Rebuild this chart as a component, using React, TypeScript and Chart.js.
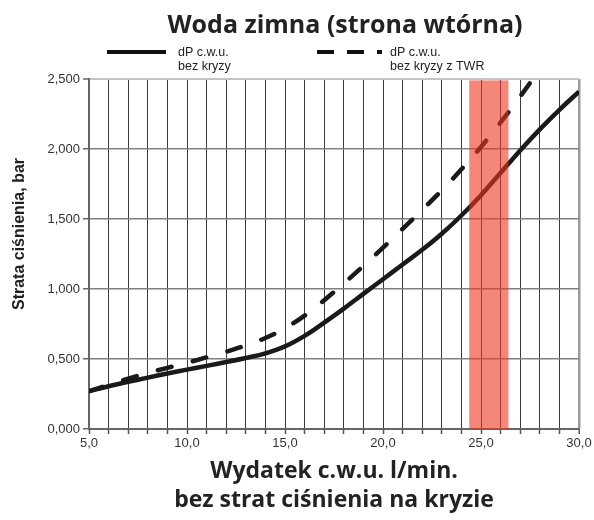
import React, { useEffect, useRef } from "react";
import { Chart, registerables } from "chart.js";

Chart.register(...registerables);

// ---- data ----
const flowValues = [5, 6, 7, 8, 9, 10, 11, 12, 13, 14, 15, 16, 17, 18, 19, 20, 21, 22, 23, 24, 25, 26, 27, 28, 29, 30];
const dpBezKryzy = [0.27, 0.305, 0.337, 0.367, 0.396, 0.424, 0.451, 0.478, 0.507, 0.54, 0.59, 0.665, 0.76, 0.86, 0.965, 1.07, 1.175, 1.28, 1.395, 1.525, 1.67, 1.83, 1.99, 2.14, 2.28, 2.41];
const flowValuesTwr = [5, 6, 7, 8, 9, 10, 11, 12, 13, 14, 15, 16, 17, 18, 19, 20, 21, 22, 23, 24, 25, 26, 27, 28];
const dpBezKryzyTwr = [0.27, 0.315, 0.36, 0.4, 0.437, 0.473, 0.512, 0.552, 0.597, 0.65, 0.72, 0.81, 0.92, 1.04, 1.165, 1.295, 1.43, 1.565, 1.705, 1.855, 2.015, 2.19, 2.375, 2.57];
const bandRange = [24.4, 26.4];
const bandTop = 2.49;
const xRange = [5, 30];
const yRange = [0, 2.5];
const titleText = "Woda zimna (strona wtórna)";
const legendSolid = ["dP c.w.u.", "bez kryzy"];
const legendDashed = ["dP c.w.u.", "bez kryzy z TWR"];
const yTitleText = "Strata ciśnienia, bar";
const xTitleText = ["Wydatek c.w.u. l/min.", "bez strat ciśnienia na kryzie"];

const geoFont = "'Open Sans', Lato, sans-serif";
const arialFont = "'Liberation Sans', Arial, sans-serif";

const decorPlugin = {
  id: "decor",
  afterDatasetsDraw(chart: any) {
    const { ctx, scales } = chart;
    const x = scales.x;
    const y = scales.y;
    const x0 = x.getPixelForValue(bandRange[0]);
    const x1 = x.getPixelForValue(bandRange[1]);
    const yt = y.getPixelForValue(bandTop);
    const yb = y.getPixelForValue(0);
    ctx.save();
    ctx.fillStyle = "rgba(237,55,33,0.6)";
    ctx.fillRect(x0, yt, x1 - x0, yb - yt);
    ctx.restore();
  },
  afterDraw(chart: any) {
    const { ctx, chartArea } = chart;
    const cx = (chartArea.left + chartArea.right) / 2;
    ctx.save();
    // title
    ctx.fillStyle = "#222";
    ctx.font = `bold 25px ${geoFont}`;
    ctx.textAlign = "center";
    ctx.textBaseline = "alphabetic";
    ctx.fillText(titleText, cx + 11, 33);

    // legend
    const ly = 52;
    ctx.strokeStyle = "#111";
    ctx.lineWidth = 4;
    ctx.lineCap = "butt";
    ctx.beginPath();
    ctx.moveTo(chartArea.left + 18, ly);
    ctx.lineTo(chartArea.left + 77, ly);
    ctx.stroke();
    ctx.setLineDash([17, 13]);
    ctx.beginPath();
    ctx.moveTo(chartArea.left + 228, ly);
    ctx.lineTo(chartArea.left + 293, ly);
    ctx.stroke();
    ctx.setLineDash([]);
    ctx.font = `12.5px ${arialFont}`;
    ctx.textAlign = "left";
    ctx.textBaseline = "middle";
    ctx.fillStyle = "#222";
    legendSolid.forEach((t, i) => ctx.fillText(t, chartArea.left + 89, 53 + i * 14));
    legendDashed.forEach((t, i) => ctx.fillText(t, chartArea.left + 301, 53 + i * 14));

    // y title
    ctx.translate(20, (chartArea.top + chartArea.bottom) / 2 - 20);
    ctx.rotate(-Math.PI / 2);
    ctx.textAlign = "center";
    ctx.textBaseline = "middle";
    ctx.font = `bold 16px ${arialFont}`;
    ctx.fillStyle = "#222";
    ctx.fillText(yTitleText, 0, 0);
    ctx.restore();
  },
};

export default function App() {
  const ref = useRef<HTMLCanvasElement | null>(null);
  useEffect(() => {
    if (!ref.current) return;
    const chart = new Chart(ref.current, {
      type: "line",
      data: {
        datasets: [
          {
            label: "dP c.w.u. bez kryzy",
            data: flowValues.map((v, i) => ({ x: v, y: dpBezKryzy[i] })),
            borderColor: "#1a1a1a",
            borderWidth: 4.5,
            pointRadius: 0,
            tension: 0.4,
            fill: false,
          },
          {
            label: "dP c.w.u. bez kryzy z TWR",
            data: flowValuesTwr.map((v, i) => ({ x: v, y: dpBezKryzyTwr[i] })),
            borderColor: "#1a1a1a",
            borderWidth: 4.5,
            borderDash: [14, 22],
            borderCapStyle: "round",
            pointRadius: 0,
            tension: 0.4,
            fill: false,
          },
        ],
      },
      options: {
        responsive: false,
        animation: false,
        devicePixelRatio: 1,
        layout: { padding: { top: 79, right: 15, left: 0, bottom: 0 } },
        plugins: {
          legend: { display: false },
          title: { display: false },
          tooltip: { enabled: false },
        },
        scales: {
          x: {
            type: "linear",
            min: xRange[0],
            max: xRange[1],
            afterFit: (s: any) => {
              s.height = 91;
            },
            ticks: {
              stepSize: 1,
              autoSkip: false,
              maxRotation: 0,
              color: "#333",
              padding: 2,
              font: { family: arialFont, size: 13 },
              callback: (v: any) => (Number(v) % 5 === 0 ? Number(v).toFixed(1).replace(".", ",") : ""),
            },
            grid: {
              color: (c: any) => (c.tick && c.tick.value === xRange[1] ? "#9a9a9a" : "#3c3c3c"),
              lineWidth: (c: any) => (c.tick && c.tick.value === xRange[1] ? 2.5 : 1),
              tickLength: 5,
              tickColor: "#555",
              tickWidth: 1.5,
            },
            border: { color: "#666", width: 2 },
            title: {
              display: true,
              text: xTitleText,
              color: "#222",
              font: { family: geoFont, size: 23, weight: "bold", lineHeight: 1.26 },
              padding: { top: 0, bottom: 5 },
            },
          },
          y: {
            type: "linear",
            min: yRange[0],
            max: yRange[1],
            afterFit: (s: any) => {
              s.width = 89;
            },
            ticks: {
              stepSize: 0.5,
              color: "#333",
              padding: 3,
              font: { family: arialFont, size: 13 },
              callback: (v: any) => Number(v).toFixed(3).replace(".", ","),
            },
            grid: {
              color: (c: any) => (c.tick && c.tick.value === yRange[1] ? "#c4c4c4" : "#808080"),
              lineWidth: (c: any) => (c.tick && c.tick.value === yRange[1] ? 2 : 1.5),
              tickLength: 6,
              tickColor: "#666",
              tickWidth: 1.5,
            },
            border: { color: "#666", width: 2 },
          },
        },
      },
      plugins: [decorPlugin],
    });
    return () => chart.destroy();
  }, []);
  return (
    <div style={{ position: "fixed", left: 0, top: 0, width: 594, height: 520, background: "#fff" }}>
      <canvas ref={ref} width={594} height={520} style={{ display: "block" }} />
    </div>
  );
}
